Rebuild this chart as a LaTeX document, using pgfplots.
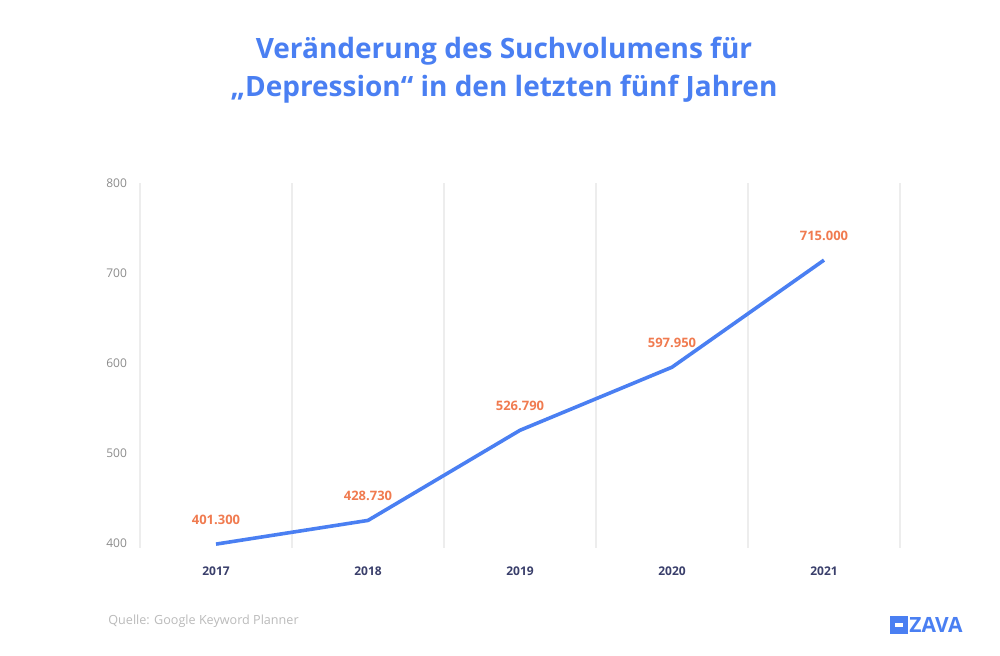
\documentclass[border=0pt]{standalone}
\usepackage{fontspec}
\setmainfont{Open Sans}
\usepackage{pgfplots}
\pgfplotsset{compat=1.18}
\definecolor{zblue}{HTML}{4A7FF2}
\definecolor{zorange}{HTML}{F07B50}
\definecolor{zgray}{HTML}{8C8C8C}
\definecolor{znavy}{HTML}{3A3F6B}
\definecolor{zgrid}{HTML}{EDEDED}

\begin{document}
\begin{tikzpicture}
\useasboundingbox (0pt,0pt) rectangle (500pt,328pt);
% title
\node[font=\bfseries\fontsize{14}{19}\selectfont, text=zblue, align=center]
  at (252pt,293pt) {Veränderung des Suchvolumens für\\„Depression“ in den letzten fünf Jahren};

\begin{axis}[
    at={(70pt,54pt)}, anchor=south west,
    scale only axis,
    width=380pt, height=182.5pt,
    xmin=2016.5, xmax=2021.5,
    ymin=395, ymax=800,
    xtick={2017,2018,2019,2020,2021},
    minor xtick={2016.5,2017.5,2018.5,2019.5,2020.5,2021.5},
    xticklabel style={font=\bfseries\fontsize{6}{7}\selectfont, text=znavy},
    ytick={400,500,600,700,800},
    yticklabel style={font=\fontsize{6}{7}\selectfont, text=zgray},
    /pgf/number format/assume math mode=true,
    xticklabel={\pgfmathprintnumber[precision=0,1000 sep={}]{\tick}},
    minor grid style={zgrid, line width=0.8pt},
    xminorgrids=true,
    axis line style={draw=none},
    major tick length=0pt, minor tick length=0pt,
    xtick pos=bottom, ytick pos=left,
    xticklabel shift=6pt,
    yticklabel shift=3pt,
    clip=false,
]
\addplot[color=zblue, line width=1.8pt,
    nodes near coords,
    point meta=explicit symbolic,
    every node near coord/.style={font=\bfseries\fontsize{6.5}{8}\selectfont, text=zorange, anchor=south, yshift=5.5pt},
] table[meta=lab] {
x     y      lab
2017  399.3  401.300
2018  425.6  428.730
2019  525.6  526.790
2020  595.6  597.950
2021  714.4  715.000
};
\end{axis}

% source and logo
\node[anchor=west, font=\fontsize{6.3}{7}\selectfont, text=zgray!60, inner sep=0pt] at (54pt,17.5pt) {Quelle: Google Keyword Planner};
\fill[zblue] (445pt,11pt) rectangle (454pt,20pt);
\fill[white] (447.3pt,14.7pt) rectangle (451.7pt,16.3pt);
\node[anchor=west, font=\bfseries\fontsize{10.5}{12}\selectfont, text=zblue, inner sep=0pt] at (454.5pt,15.5pt) {ZAVA};
\end{tikzpicture}
\end{document}
